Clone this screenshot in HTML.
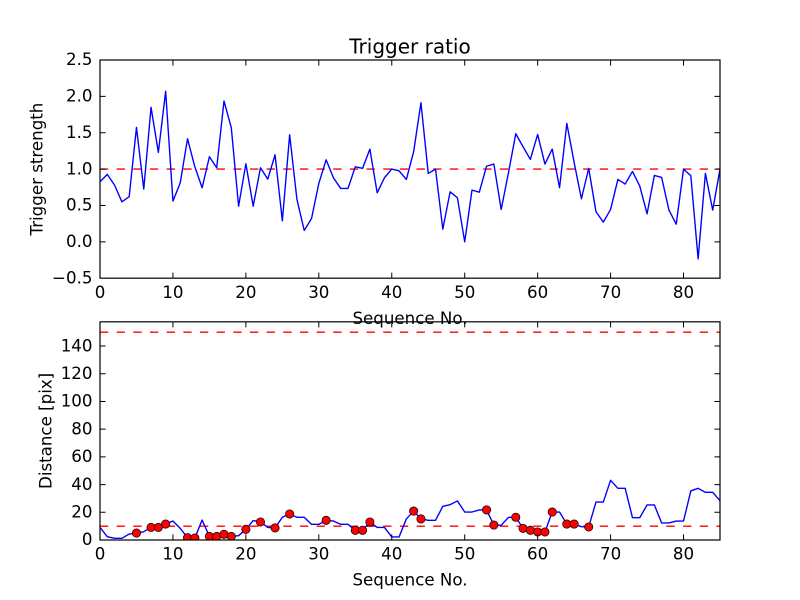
<!DOCTYPE html>
<html><head><meta charset="utf-8"><style>
html,body{margin:0;padding:0;background:#fff;}
svg{display:block;}
text{font-family:"DejaVu Sans","Liberation Sans",sans-serif;fill:#000;}
</style></head><body>
<svg width="800" height="600" viewBox="0 0 800 600" xmlns="http://www.w3.org/2000/svg">
<defs>
<clipPath id="c1"><rect x="100" y="60" width="620" height="218.18"/></clipPath>
<clipPath id="c2"><rect x="100" y="321.82" width="620" height="218.18"/></clipPath>
</defs>
<rect width="800" height="600" fill="#fff"/>

<!-- TOP PLOT -->
<g clip-path="url(#c1)">
<line x1="100" y1="169.09" x2="720" y2="169.09" stroke="#ff0000" stroke-width="1.39" stroke-dasharray="8.33 8.33"/>
<polyline transform="matrix(7.29412,0,0,-72.727,100,241.82)" vector-effect="non-scaling-stroke" fill="none" stroke="#0000ff" stroke-width="1.39" stroke-linejoin="round"
points="0,0.826 1,0.927 2,0.78 3,0.55 4,0.62 5,1.573 6,0.725 7,1.849 8,1.229 9,2.069 10,0.56 11,0.81 12,1.417 13,1.032 14,0.743 15,1.17 16,1.018 17,1.936 18,1.569 19,0.49 20,1.073 21,0.49 22,1.018 23,0.862 24,1.197 25,0.289 26,1.472 27,0.583 28,0.156 29,0.321 30,0.803 31,1.128 32,0.881 33,0.734 34,0.734 35,1.032 36,1.01 37,1.275 38,0.674 39,0.881 40,1.0 41,0.977 42,0.858 43,1.239 44,1.913 45,0.94 46,1.0 47,0.174 48,0.688 49,0.606 50,0.0 51,0.711 52,0.683 53,1.041 54,1.069 55,0.445 56,0.95 57,1.486 58,1.307 59,1.133 60,1.477 61,1.069 62,1.275 63,0.743 64,1.628 65,1.092 66,0.592 67,1.01 68,0.413 69,0.271 70,0.445 71,0.858 72,0.794 73,0.968 74,0.766 75,0.385 76,0.913 77,0.885 78,0.436 79,0.243 80,1.0 81,0.908 82,-0.234 83,0.94 84,0.436 85,1.0"/>
</g>
<rect x="100" y="60" width="620" height="218.18" fill="none" stroke="#000" stroke-width="1.2"/>
<g stroke="#000" stroke-width="1">
<!-- x ticks top plot -->
<path d="M172.94,278.18v-5.6M245.88,278.18v-5.6M318.82,278.18v-5.6M391.76,278.18v-5.6M464.71,278.18v-5.6M537.65,278.18v-5.6M610.59,278.18v-5.6M683.53,278.18v-5.6
M172.94,60v5.6M245.88,60v5.6M318.82,60v5.6M391.76,60v5.6M464.71,60v5.6M537.65,60v5.6M610.59,60v5.6M683.53,60v5.6
M100,241.82h5.6M100,205.45h5.6M100,169.09h5.6M100,132.73h5.6M100,96.36h5.6
M720,241.82h-5.6M720,205.45h-5.6M720,169.09h-5.6M720,132.73h-5.6M720,96.36h-5.6"/>
</g>
<g font-size="16.67" text-anchor="middle">
<text x="100" y="298">0</text>
<text x="172.94" y="298">10</text>
<text x="245.88" y="298">20</text>
<text x="318.82" y="298">30</text>
<text x="391.76" y="298">40</text>
<text x="464.71" y="298">50</text>
<text x="537.65" y="298">60</text>
<text x="610.59" y="298">70</text>
<text x="683.53" y="298">80</text>
</g>
<g font-size="16.67" text-anchor="end">
<text x="92.5" y="283.5">−0.5</text>
<text x="92.5" y="247">0.0</text>
<text x="92.5" y="210.6">0.5</text>
<text x="92.5" y="174.3">1.0</text>
<text x="92.5" y="137.9">1.5</text>
<text x="92.5" y="101.5">2.0</text>
<text x="92.5" y="65.2">2.5</text>
</g>
<text x="410" y="53.3" font-size="20" text-anchor="middle">Trigger ratio</text>
<text x="410" y="324" font-size="16.67" text-anchor="middle">Sequence No.</text>
<text transform="translate(42.5,169.09) rotate(-90)" font-size="16.67" text-anchor="middle">Trigger strength</text>

<!-- BOTTOM PLOT -->
<g clip-path="url(#c2)">
<line x1="100" y1="526.15" x2="720" y2="526.15" stroke="#ff0000" stroke-width="1.39" stroke-dasharray="8.33 8.33"/>
<line x1="100" y1="332.2" x2="720" y2="332.2" stroke="#ff0000" stroke-width="1.39" stroke-dasharray="8.33 8.33"/>
<polyline transform="matrix(7.29412,0,0,-1.3853,100,540)" vector-effect="non-scaling-stroke" fill="none" stroke="#0000ff" stroke-width="1.39" stroke-linejoin="round"
points="0,9.1 1,2.4 2,1.2 3,1.2 4,4.3 5,5.0 6,6.0 7,9.1 8,9.1 9,11.5 10,13.7 11,8.4 12,1.7 13,1.4 14,14.4 15,2.6 16,2.6 17,4.1 18,2.6 19,3.1 20,7.7 21,14.0 22,13.0 23,9.1 24,8.7 25,16.4 26,18.8 27,16.4 28,16.4 29,11.3 30,11.3 31,14.2 32,13.7 33,11.3 34,11.3 35,7.0 36,7.0 37,13.0 38,9.1 39,9.1 40,2.2 41,2.2 42,15.2 43,20.9 44,15.2 45,14.2 46,14.2 47,24.3 48,25.5 49,28.2 50,20.2 51,20.2 52,21.7 53,21.7 54,10.8 55,10.6 56,16.4 57,16.4 58,8.4 59,7.0 60,5.8 61,5.8 62,20.2 63,20.2 64,11.5 65,11.5 66,9.6 67,9.4 68,27.4 69,27.4 70,43.1 71,37.3 72,37.3 73,16.1 74,16.1 75,25.3 76,25.3 77,12.3 78,12.3 79,13.7 80,13.7 81,35.4 82,37.3 83,34.4 84,34.4 85,28.4"/>
<g fill="#ff0000" stroke="#000" stroke-width="0.7">
<circle cx="136.47" cy="533.07" r="4.17"/>
<circle cx="151.06" cy="527.39" r="4.17"/>
<circle cx="158.35" cy="527.39" r="4.17"/>
<circle cx="165.65" cy="524.07" r="4.17"/>
<circle cx="187.53" cy="537.64" r="4.17"/>
<circle cx="194.82" cy="538.06" r="4.17"/>
<circle cx="209.41" cy="536.40" r="4.17"/>
<circle cx="216.71" cy="536.40" r="4.17"/>
<circle cx="224.00" cy="534.32" r="4.17"/>
<circle cx="231.29" cy="536.40" r="4.17"/>
<circle cx="245.88" cy="529.33" r="4.17"/>
<circle cx="260.47" cy="521.99" r="4.17"/>
<circle cx="275.06" cy="527.95" r="4.17"/>
<circle cx="289.65" cy="513.96" r="4.17"/>
<circle cx="326.12" cy="520.33" r="4.17"/>
<circle cx="355.29" cy="530.30" r="4.17"/>
<circle cx="362.59" cy="530.30" r="4.17"/>
<circle cx="369.88" cy="521.99" r="4.17"/>
<circle cx="413.65" cy="511.05" r="4.17"/>
<circle cx="420.94" cy="518.94" r="4.17"/>
<circle cx="486.59" cy="509.94" r="4.17"/>
<circle cx="493.88" cy="525.04" r="4.17"/>
<circle cx="515.76" cy="517.28" r="4.17"/>
<circle cx="523.06" cy="528.36" r="4.17"/>
<circle cx="530.35" cy="530.30" r="4.17"/>
<circle cx="537.65" cy="531.97" r="4.17"/>
<circle cx="544.94" cy="531.97" r="4.17"/>
<circle cx="552.24" cy="512.02" r="4.17"/>
<circle cx="566.82" cy="524.07" r="4.17"/>
<circle cx="574.12" cy="524.07" r="4.17"/>
<circle cx="588.71" cy="526.98" r="4.17"/>
</g>
</g>
<rect x="100" y="321.82" width="620" height="218.18" fill="none" stroke="#000" stroke-width="1.2"/>
<g stroke="#000" stroke-width="1">
<path d="M172.94,540v-5.6M245.88,540v-5.6M318.82,540v-5.6M391.76,540v-5.6M464.71,540v-5.6M537.65,540v-5.6M610.59,540v-5.6M683.53,540v-5.6
M172.94,321.82v5.6M245.88,321.82v5.6M318.82,321.82v5.6M391.76,321.82v5.6M464.71,321.82v5.6M537.65,321.82v5.6M610.59,321.82v5.6M683.53,321.82v5.6
M100,512.29h5.6M100,484.59h5.6M100,456.88h5.6M100,429.18h5.6M100,401.47h5.6M100,373.76h5.6M100,346.06h5.6
M720,512.29h-5.6M720,484.59h-5.6M720,456.88h-5.6M720,429.18h-5.6M720,401.47h-5.6M720,373.76h-5.6M720,346.06h-5.6"/>
</g>
<g font-size="16.67" text-anchor="middle">
<text x="100" y="559.5">0</text>
<text x="172.94" y="559.5">10</text>
<text x="245.88" y="559.5">20</text>
<text x="318.82" y="559.5">30</text>
<text x="391.76" y="559.5">40</text>
<text x="464.71" y="559.5">50</text>
<text x="537.65" y="559.5">60</text>
<text x="610.59" y="559.5">70</text>
<text x="683.53" y="559.5">80</text>
</g>
<g font-size="16.67" text-anchor="end">
<text x="92.5" y="545.2">0</text>
<text x="92.5" y="517.5">20</text>
<text x="92.5" y="489.8">40</text>
<text x="92.5" y="462.1">60</text>
<text x="92.5" y="434.4">80</text>
<text x="92.5" y="406.7">100</text>
<text x="92.5" y="379">120</text>
<text x="92.5" y="351.3">140</text>
</g>
<text x="410" y="585.5" font-size="16.67" text-anchor="middle">Sequence No.</text>
<text transform="translate(51.5,430.9) rotate(-90)" font-size="16.67" text-anchor="middle">Distance [pix]</text>
</svg>
</body></html>
